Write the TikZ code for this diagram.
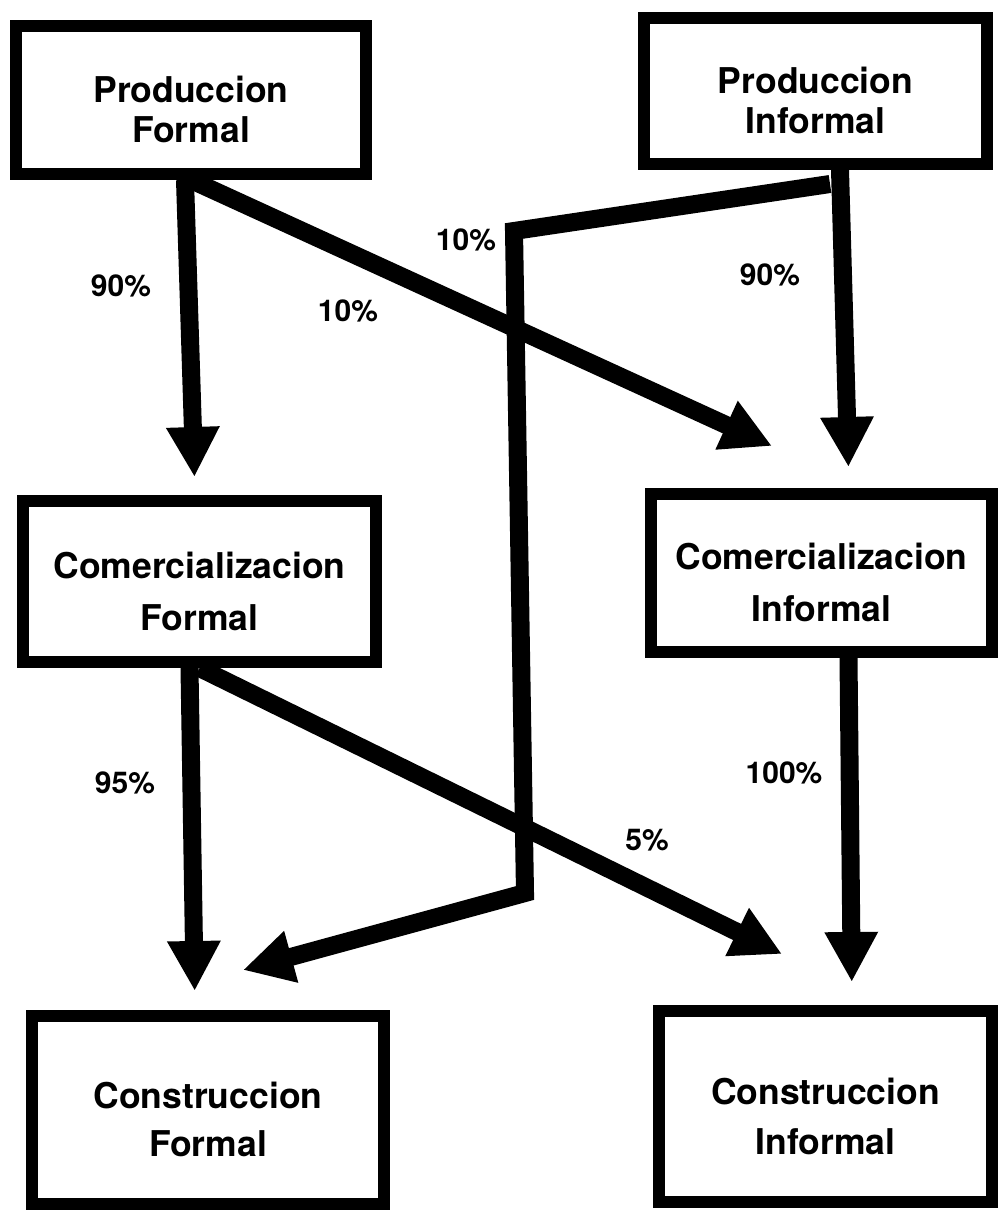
\documentclass[tikz,border=0pt]{standalone}
\usepackage{fontspec}
\setmainfont{TeX Gyre Heros}
\usetikzlibrary{positioning,calc,arrows.meta}
\newcommand{\boxpad}{\rule{0pt}{45.5pt}}

\begin{document}
\begin{tikzpicture}[x=1pt,y=1pt]
    \tikzstyle{box}=[draw,rectangle,line width=12pt,inner sep=0pt,align=center,font=\bfseries\fontsize{35.5}{40}\selectfont]
    \tikzstyle{flow}=[draw,line width=18pt,line join=miter,-{Triangle[length=50pt,width=50pt]}]
    \tikzstyle{pct}=[inner sep=0pt,font=\bfseries\fontsize{30}{30}\selectfont]
    \useasboundingbox (0,0) rectangle (1000,-1214);

    % boxes
    \node[box,minimum width=350,minimum height=148] (pf) at (191,-100) {\boxpad Produccion\\Formal};
    \node[box,minimum width=343,minimum height=146] (pi) at (815.5,-91) {\boxpad Produccion\\Informal};
    \node[box,minimum width=353,minimum height=161] (cf) at (199.5,-581.5) {\boxpad Comercializacion\\[12pt]Formal};
    \node[box,minimum width=341,minimum height=158] (ci) at (821.5,-573) {\boxpad Comercializacion\\[12pt]Informal};
    \node[box,minimum width=352,minimum height=188] (conf) at (208,-1110) {\boxpad Construccion\\[8pt]Formal};
    \node[box,minimum width=333,minimum height=191] (coni) at (825.5,-1106.5) {\boxpad Construccion\\[10pt]Informal};

    % ends and bends
    \coordinate (intoci) at ([shift={(-49.5,42)}]ci.north);
    \coordinate (intoconf) at ([shift={(35,40)}]conf.north);
    \coordinate (intoconi) at ([shift={(-43.5,51)}]coni.north);
    \coordinate (bendtop) at (514,-231);
    \coordinate (bendbot) at (525,-893);

    % flows
    \draw[flow,shorten >=18pt] ([xshift=-6pt]pf.south) -- ([xshift=-4.5pt]cf.north);
    \draw[flow] (pf.south) -- (intoci);
    \draw[flow,shorten >=21pt] ([xshift=24.5pt]pi.south) -- ([xshift=27.5pt]ci.north);
    \draw[flow] ([shift={(14.5,-14)}]pi.south) -- (bendtop) -- (bendbot) -- (intoconf);
    \draw[flow,shorten >=19pt] ([xshift=-10pt]cf.south) -- ([xshift=-13pt]conf.north);
    \draw[flow] (cf.south) -- (intoconi);
    \draw[flow,shorten >=23pt] ([xshift=27pt]ci.south) -- ([xshift=26.5pt]coni.north);

    % shares
    \node[pct] (pfcf) at (121,-286) {90\%};
    \node[pct] (pfci) at (348,-311) {10\%};
    \node[pct] (piconf) at (466,-240) {10\%};
    \node[pct] (pici) at (770,-275) {90\%};
    \node[pct] (cfconf) at (125,-783) {95\%};
    \node[pct] (cfconi) at (647,-840) {5\%};
    \node[pct] (ciconi) at (784,-773) {100\%};
\end{tikzpicture}
\end{document}
